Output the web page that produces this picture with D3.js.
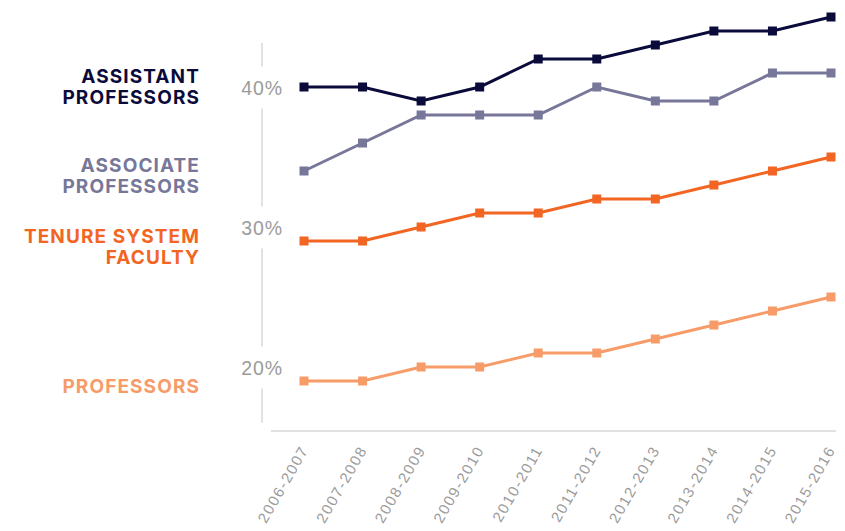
<!DOCTYPE html>
<html>
<head>
<meta charset="utf-8">
<script src="https://cdn.jsdelivr.net/npm/d3@7"></script>
<style>
  body { margin: 0; background: #fff; }
  svg { display: block; font-family: Inter, "Open Sans", sans-serif; }
</style>
</head>
<body>
<svg id="chart" width="845" height="531"></svg>
<script>
var years = ["2006-2007", "2007-2008", "2008-2009", "2009-2010", "2010-2011",
             "2011-2012", "2012-2013", "2013-2014", "2014-2015", "2015-2016"];

var assistant = [40, 40, 39, 40, 42, 42, 43, 44, 44, 45];
var associate = [34, 36, 38, 38, 38, 40, 39, 39, 41, 41];
var tenure    = [29, 29, 30, 31, 31, 32, 32, 33, 34, 35];
var professors = [19, 19, 20, 20, 21, 21, 22, 23, 24, 25];

var yTicks = [20, 30, 40];

// drawn bottom to top; ly = baseline of first label line (layout only)
var series = [
  {name: ["PROFESSORS"], values: professors, c: "#f79c69", ly: 393},
  {name: ["TENURE SYSTEM", "FACULTY"], values: tenure, c: "#f26522", ly: 243},
  {name: ["ASSOCIATE", "PROFESSORS"], values: associate, c: "#777799", ly: 172},
  {name: ["ASSISTANT", "PROFESSORS"], values: assistant, c: "#0b0b3b", ly: 83}
];

var svg = d3.select("#chart");

var x = d3.scalePoint()
          .domain(years)
          .range([304, 831]);

var y = d3.scaleLinear()
          .domain([16, 45])
          .range([423, 17]);

// y axis: thin grey rule with gaps behind the tick labels
svg.append("line")
   .attr("x1", 262).attr("x2", 262)
   .attr("y1", 43).attr("y2", y(16))
   .attr("stroke", "#d9d9d9")
   .attr("stroke-width", 1.5);

var yAxis = svg.append("g")
   .attr("transform", "translate(262,0)")
   .call(d3.axisLeft(y).tickValues(yTicks).tickSize(0).tickFormat(function(d){ return d + "%"; }));

yAxis.select(".domain").remove();
yAxis.selectAll(".tick").insert("rect", "text")
     .attr("x", -10).attr("y", -21)
     .attr("width", 20).attr("height", 42)
     .attr("fill", "#fff");
yAxis.selectAll("text")
     .attr("x", 0)
     .attr("dy", ".38em")
     .style("text-anchor", "middle")
     .style("font-size", "19.5px")
     .style("font-weight", 500)
     .style("letter-spacing", "0.9px")
     .attr("fill", "#9b9b9b");

// x axis
svg.append("line")
   .attr("x1", 271).attr("x2", 836)
   .attr("y1", 431).attr("y2", 431)
   .attr("stroke", "#c4c4c4")
   .attr("stroke-width", 1.2);

var xAxis = svg.append("g")
   .attr("transform", "translate(0,447)")
   .call(d3.axisBottom(x).tickSize(0));

xAxis.select(".domain").remove();
xAxis.selectAll("text")
     .attr("y", 0)
     .attr("x", 0)
     .attr("dy", ".35em")
     .attr("transform", "rotate(-60)")
     .style("text-anchor", "end")
     .style("font-size", "15px")
     .style("letter-spacing", "1.6px")
     .attr("fill", "#9b9b9b");

var line = d3.line()
             .x(function(d, i){ return x(years[i]); })
             .y(function(d){ return y(d); });

var lines = svg.selectAll(".series")
               .data(series)
               .enter()
               .append("g")
               .attr("class", "series");

lines.append("path")
     .attr("d", function(d){ return line(d.values); })
     .attr("fill", "none")
     .attr("stroke", function(d){ return d.c; })
     .attr("stroke-width", 3);

lines.selectAll("rect")
     .data(function(d){ return d.values.map(function(v, i){ return {v: v, i: i, c: d.c}; }); })
     .enter()
     .append("rect")
     .attr("x", function(d){ return x(years[d.i]) - 4.5; })
     .attr("y", function(d){ return y(d.v) - 4.5; })
     .attr("width", 9)
     .attr("height", 9)
     .attr("fill", function(d){ return d.c; });

// series labels on the left
var labels = svg.selectAll(".label")
                .data(series)
                .enter()
                .append("text")
                .attr("class", "label")
                .attr("x", 200)
                .attr("y", function(d){ return d.ly; })
                .style("text-anchor", "end")
                .style("font-size", "19px")
                .style("font-weight", 700)
                .style("letter-spacing", "1.1px")
                .attr("fill", function(d){ return d.c; });

labels.selectAll("tspan")
      .data(function(d){ return d.name; })
      .enter()
      .append("tspan")
      .attr("x", 200)
      .attr("dy", function(d, i){ return i == 0 ? 0 : 21; })
      .text(function(d){ return d; });
</script>
</body>
</html>
